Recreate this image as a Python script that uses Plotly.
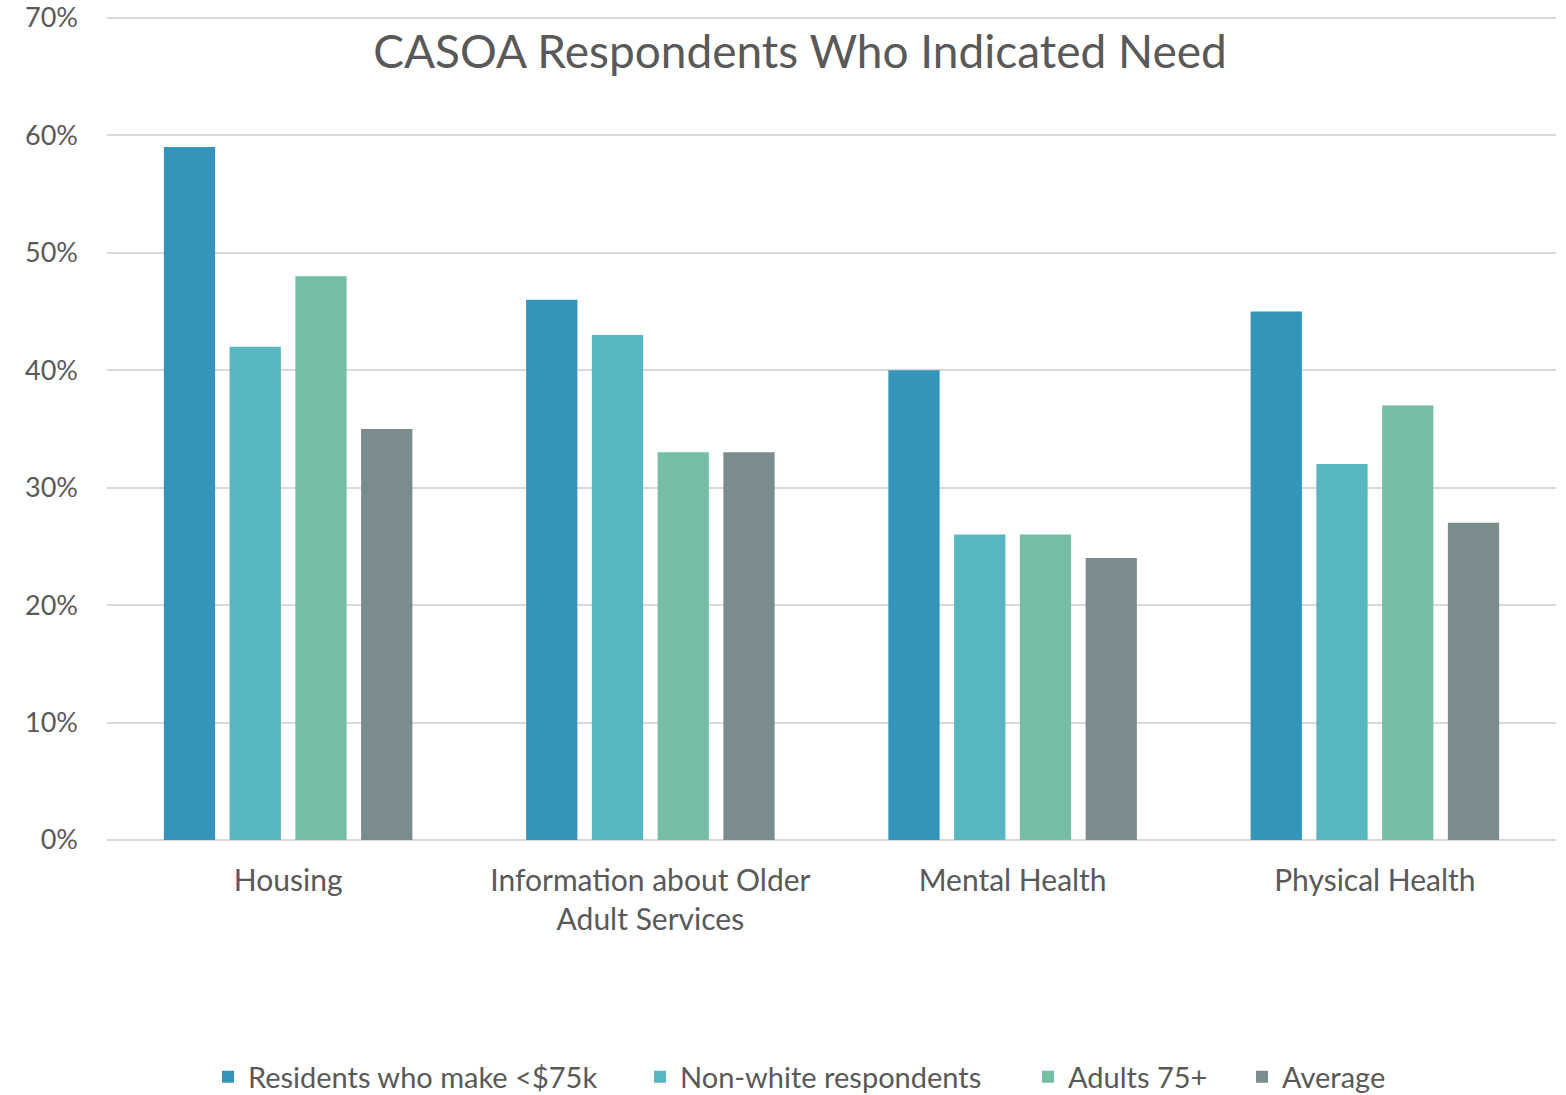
import plotly.graph_objects as go

categories = ["Housing", "Information about Older<br>Adult Services", "Mental Health", "Physical Health"]
series_names = ["Residents who make <$75k", "Non-white respondents", "Adults 75+", "Average"]
residents_lt75k = [0.59, 0.46, 0.40, 0.45]
non_white = [0.42, 0.43, 0.26, 0.32]
adults_75 = [0.48, 0.33, 0.26, 0.37]
average = [0.35, 0.33, 0.24, 0.27]
colors = ["#3494BA", "#58B6C0", "#75BDA7", "#7A8C8E"]
y_ticks = [0, 0.1, 0.2, 0.3, 0.4, 0.5, 0.6, 0.7]
y_tick_labels = ["0%", "10%", "20%", "30%", "40%", "50%", "60%", "70%"]

W, H = 1566, 1095
legend_left_px = [208, 640, 1028, 1242]
legend_ids = ["legend", "legend2", "legend3", "legend4"]

fnt = "Lato, 'Open Sans', sans-serif"
fig = go.Figure()
for name, vals, col, lid in zip(series_names, [residents_lt75k, non_white, adults_75, average], colors, legend_ids):
    fig.add_trace(go.Bar(name=name, x=categories, y=vals, legend=lid,
                         marker=dict(color=col, line=dict(width=0))))

legend_layout = {}
for lid, px in zip(legend_ids, legend_left_px):
    legend_layout[lid] = dict(orientation="h", x=px / W, xanchor="left", xref="container",
                              y=1 - 1077 / H, yanchor="middle", yref="container",
                              font=dict(size=29, color="#595959", family=fnt), itemwidth=30,
                              bgcolor="rgba(0,0,0,0)")

fig.update_layout(
    width=W, height=H,
    paper_bgcolor="white", plot_bgcolor="white",
    margin=dict(l=107, r=10, t=16, b=255, autoexpand=False),
    barmode="group", bargap=0.274, bargroupgap=0.22,
    font=dict(family=fnt, color="#595959"),
    title=dict(text="CASOA Respondents Who Indicated Need", font=dict(size=46, color="#595959", family=fnt),
               x=800 / W, xanchor="center", xref="container", y=1 - 52 / H, yanchor="middle", yref="container"),
    showlegend=True,
    xaxis=dict(showline=False, ticks="", tickfont=dict(size=30, color="#595959"), showgrid=False,
               ticklabelstandoff=20, automargin=False),
    yaxis=dict(range=[0, 0.7015], tickvals=y_ticks, ticktext=y_tick_labels, showgrid=True, gridcolor="#D9D9D9",
               gridwidth=2, zeroline=True, zerolinecolor="#D9D9D9", zerolinewidth=2,
               tickfont=dict(size=27, color="#595959"), ticklabelstandoff=28, showline=False, automargin=False),
    **legend_layout,
)
fig.write_html("out.html", config={"displayModeBar": False},
               post_script="document.body.style.margin='0';document.body.style.padding='0';")
